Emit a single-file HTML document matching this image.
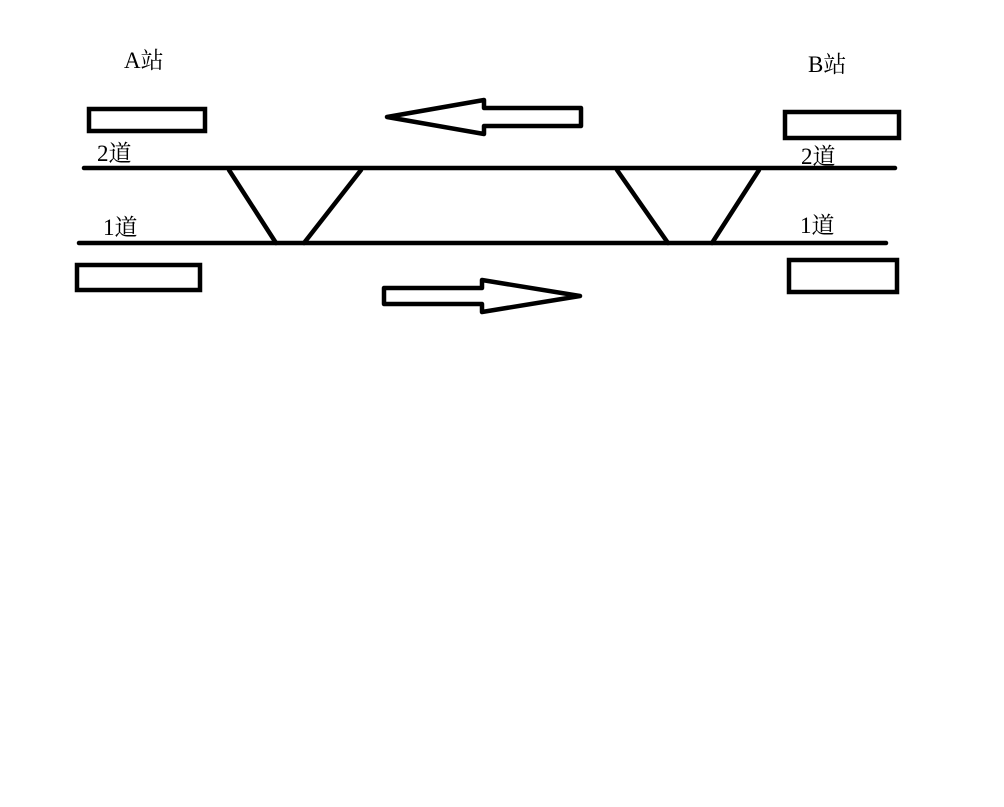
<!DOCTYPE html>
<html><head><meta charset="utf-8"><style>
html,body{margin:0;padding:0;background:#fff;width:1004px;height:807px;overflow:hidden}
svg text{font-family:"Liberation Serif","Noto Serif CJK SC",serif;font-size:23px;fill:#000}
</style></head><body>
<svg width="1004" height="807" viewBox="0 0 1004 807" xmlns="http://www.w3.org/2000/svg">
<g stroke="#000" stroke-width="4.5" fill="none" stroke-linecap="round">
<line x1="84" y1="168" x2="895" y2="168"/>
<line x1="79" y1="243" x2="886" y2="243"/>
<line x1="229" y1="170" x2="276" y2="243"/>
<line x1="361" y1="170" x2="304" y2="243"/>
<line x1="617" y1="170" x2="668" y2="243"/>
<line x1="759" y1="170" x2="712" y2="243"/>
<rect x="89" y="109" width="116" height="22"/>
<rect x="77" y="265" width="123" height="25"/>
<rect x="785" y="112" width="114" height="26"/>
<rect x="789" y="260" width="108" height="32"/>
<polygon stroke-linejoin="round" points="387,117 484,100 484,108 581,108 581,126 484,126 484,134"/>
<polygon stroke-linejoin="round" points="384,288 482,288 482,280 580,296 482,312 482,304 384,304"/>
</g>
<text x="124" y="68">A站</text>
<text x="808" y="72">B站</text>
<text x="97" y="161">2道</text>
<text x="103" y="235">1道</text>
<text x="801" y="164">2道</text>
<text x="800" y="233">1道</text>
</svg>
</body></html>
